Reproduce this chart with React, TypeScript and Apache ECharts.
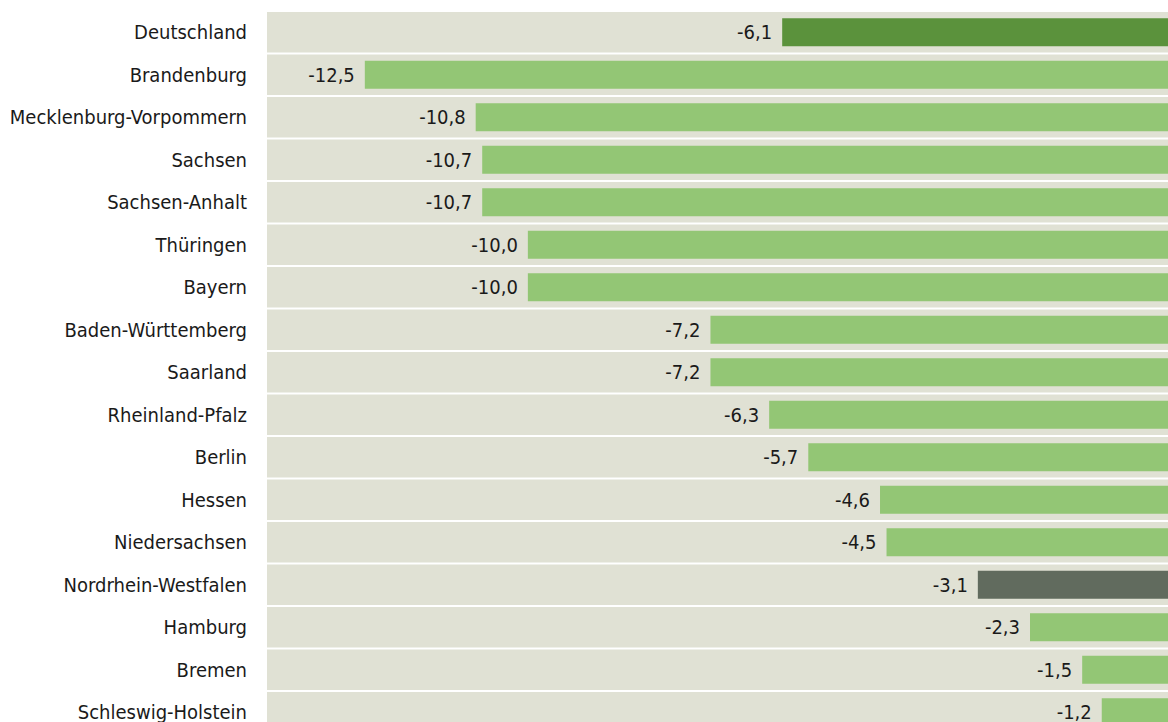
import React, { useEffect, useRef } from "react";
import * as echarts from "echarts";

const categories = [
  "Deutschland",
  "Brandenburg",
  "Mecklenburg-Vorpommern",
  "Sachsen",
  "Sachsen-Anhalt",
  "Thüringen",
  "Bayern",
  "Baden-Württemberg",
  "Saarland",
  "Rheinland-Pfalz",
  "Berlin",
  "Hessen",
  "Niedersachsen",
  "Nordrhein-Westfalen",
  "Hamburg",
  "Bremen",
  "Schleswig-Holstein",
];

const values = [
  -6.1, -12.5, -10.8, -10.7, -10.7, -10.0, -10.0, -7.2, -7.2, -6.3, -5.7, -4.6,
  -4.5, -3.1, -2.3, -1.5, -1.2,
];

const axisMin = -14;
const axisMax = 0;

const FONT = "'DejaVu Sans Condensed', 'DejaVu Sans', sans-serif";

export default function App() {
  const ref = useRef<HTMLDivElement>(null);
  useEffect(() => {
    if (!ref.current) return;
    const chart = echarts.init(ref.current, undefined, { renderer: "svg" });
    const colorFor = (name: string) =>
      name === "Deutschland" ? "#5b923c" : name === "Nordrhein-Westfalen" ? "#616b5e" : "#93c675";
    chart.setOption({
      animation: false,
      grid: { left: 267, top: 11, width: 913, height: 722.5, containLabel: false },
      xAxis: {
        type: "value",
        min: axisMin,
        max: axisMax,
        show: false,
      },
      yAxis: [
        {
          type: "category",
          data: categories,
          inverse: true,
          axisLine: { show: false },
          axisTick: { show: false },
          splitLine: { show: false },
          axisLabel: {
            margin: 20,
            fontSize: 20,
            color: "#1a1a1a",
            fontFamily: FONT,
          },
        },
        {
          type: "category",
          data: categories,
          inverse: true,
          position: "left",
          show: false,
        },
      ],
      series: [
        {
          type: "bar",
          yAxisIndex: 1,
          data: categories.map(() => axisMin),
          barWidth: 40.5,
          itemStyle: { color: "#e0e1d4" },
          silent: true,
          z: 1,
        },
        {
          type: "bar",
          yAxisIndex: 0,
          data: values.map((v, i) => ({
            value: v,
            itemStyle: { color: colorFor(categories[i]) },
          })),
          barWidth: 28,
          z: 2,
          label: {
            show: true,
            position: "left",
            distance: 10,
            fontSize: 20,
            color: "#1a1a1a",
            fontFamily: FONT,
            formatter: (p: any) => p.value.toFixed(1).replace(".", ","),
          },
        },
      ],
    });
    return () => chart.dispose();
  }, []);
  return (
    <div style={{ position: "absolute", left: 0, top: 0, width: 1168, height: 722, overflow: "hidden" }}>
      <div ref={ref} style={{ width: 1200, height: 760 }} />
    </div>
  );
}
